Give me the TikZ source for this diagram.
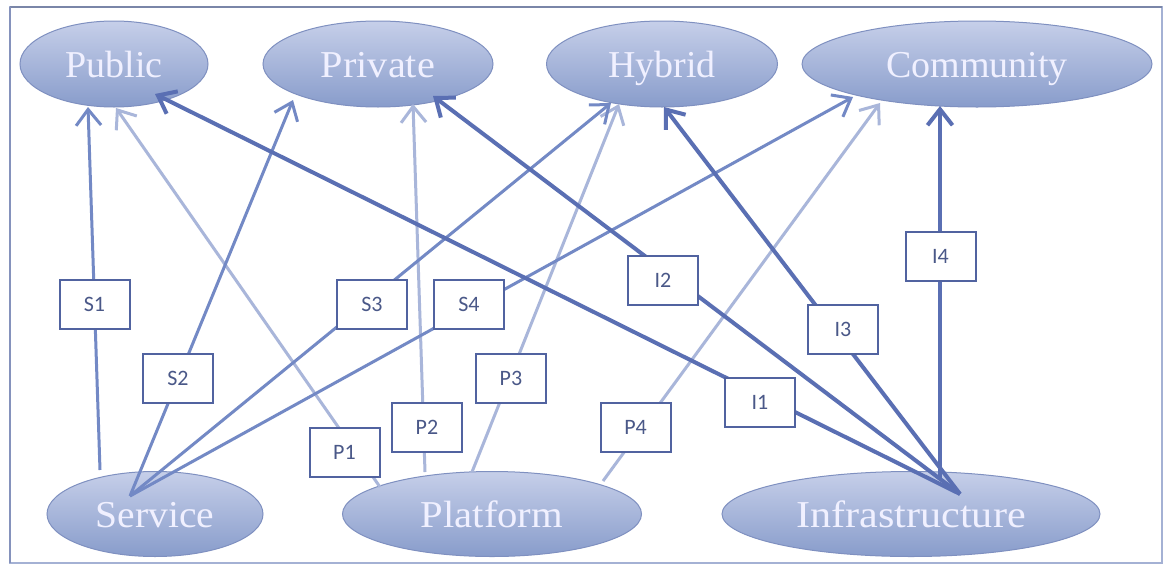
\documentclass[tikz,border=0pt]{standalone}
\usepackage{fontspec}
\setmainfont{Liberation Serif}
\newfontfamily\boxfont{Carlito}
\usetikzlibrary{shapes.geometric,arrows.meta}
\definecolor{ellfillA}{HTML}{C6CFE9}
\definecolor{ellfillB}{HTML}{889CCB}
\definecolor{elldraw}{HTML}{7F90C0}
\definecolor{scol}{HTML}{7389C5}
\definecolor{pcol}{HTML}{A9B6DA}
\definecolor{icol}{HTML}{5A6FB3}
\definecolor{boxdraw}{HTML}{5163A0}
\definecolor{boxtext}{HTML}{4A5888}
\definecolor{framecol}{HTML}{A4B1D4}
\definecolor{frametop}{HTML}{7A86A8}
\begin{document}
\begin{tikzpicture}[x=1pt,y=-1pt,
  cloud/.style={ellipse, draw=elldraw, line width=1pt, top color=ellfillA, bottom color=ellfillB,
    inner sep=0pt, text=white!94!blue, font=\fontsize{38}{40}\selectfont, text height=26pt, text depth=0pt},
  lbl/.style={draw=boxdraw, line width=2pt, fill=white, minimum width=70pt, minimum height=49pt,
    inner sep=0pt, text=boxtext, font=\boxfont\fontsize{22}{24}\selectfont},
  conn/.style={line width=3pt, -{Straight Barb[length=16pt,width=25pt]}},
  sconn/.style={conn, draw=scol},
  pconn/.style={conn, draw=pcol},
  iconn/.style={conn, draw=icol, line width=4pt},
]
\useasboundingbox (0,0) rectangle (1167,568);
\fill[white] (0,0) rectangle (1167,568);
% frame
\draw[framecol, line width=1.5pt] (10,7) rectangle (1162,563);
\draw[frametop, line width=2pt] (10,7) -- (1162,7);
\draw[boxdraw!70, line width=2pt] (10,7) -- (10,563);

% clouds
\node[cloud, minimum width=188pt, minimum height=86pt] (pub) at (114,64) {Public};
\node[cloud, minimum width=230pt, minimum height=86pt] (priv) at (378,64) {\scalebox{1.06}[1]{Private}};
\node[cloud, minimum width=231pt, minimum height=86pt] (hyb) at (662,64) {Hybrid};
\node[cloud, minimum width=350pt, minimum height=86pt] (com) at (977,64) {Community};
\node[cloud, minimum width=216pt, minimum height=85pt] (svc) at (155,514) {\scalebox{1.04}[1]{Service}};
\node[cloud, minimum width=299pt, minimum height=85pt] (plat) at (492,514) {\scalebox{1.07}[1]{Platform}};
\node[cloud, minimum width=378pt, minimum height=85pt] (inf) at (911,514) {\scalebox{1.11}[1]{Infrastructure}};

% start points
\coordinate (svA) at (100,470);
\coordinate (svB) at (130,496);
\coordinate (plA) at (380,487);
\coordinate (plB) at (425,472);
\coordinate (plC) at (472,472);
\coordinate (plD) at (603,481);
\coordinate (inA) at (940,478);
\coordinate (inB) at (960,494);
% tip points
\coordinate (pubS) at (88,107);
\coordinate (pubP) at (116,108);
\coordinate (pubI) at (155,94);
\coordinate (privS) at (293,100);
\coordinate (privP) at (413,104);
\coordinate (privI) at (433,96);
\coordinate (hybS) at (611,103);
\coordinate (hybP) at (619,104);
\coordinate (hybI) at (664,107);
\coordinate (comS) at (853,97);
\coordinate (comP) at (880,103);
\coordinate (comI) at (940,106);

% connectors
\draw[pconn] (plA) -- (pubP);
\draw[pconn] (plB) -- (privP);
\draw[pconn] (plC) -- (hybP);
\draw[pconn] (plD) -- (comP);
\draw[sconn] (svA) -- (pubS);
\draw[sconn] (svB) -- (privS);
\draw[sconn] (svB) -- (hybS);
\draw[sconn] (svB) -- (comS);
\draw[iconn] (inB) -- (pubI);
\draw[iconn] (inB) -- (privI);
\draw[iconn] (inB) -- (hybI);
\draw[iconn] (inA) -- (comI);

% labels
\node[lbl] (s1) at (94.5,304.5) {S1};
\node[lbl] (s2) at (178,378.5) {S2};
\node[lbl] (s3) at (372,304.5) {S3};
\node[lbl] (s4) at (469,304.5) {S4};
\node[lbl] (p1) at (344.5,452) {P1};
\node[lbl] (p2) at (427,427.5) {P2};
\node[lbl] (p3) at (511,378.5) {P3};
\node[lbl] (p4) at (635.5,427.5) {P4};
\node[lbl] (i1) at (760,402.5) {I1};
\node[lbl] (i2) at (663,280.5) {I2};
\node[lbl] (i3) at (843,329.5) {I3};
\node[lbl] (i4) at (940.5,256) {I4};
\end{tikzpicture}
\end{document}
